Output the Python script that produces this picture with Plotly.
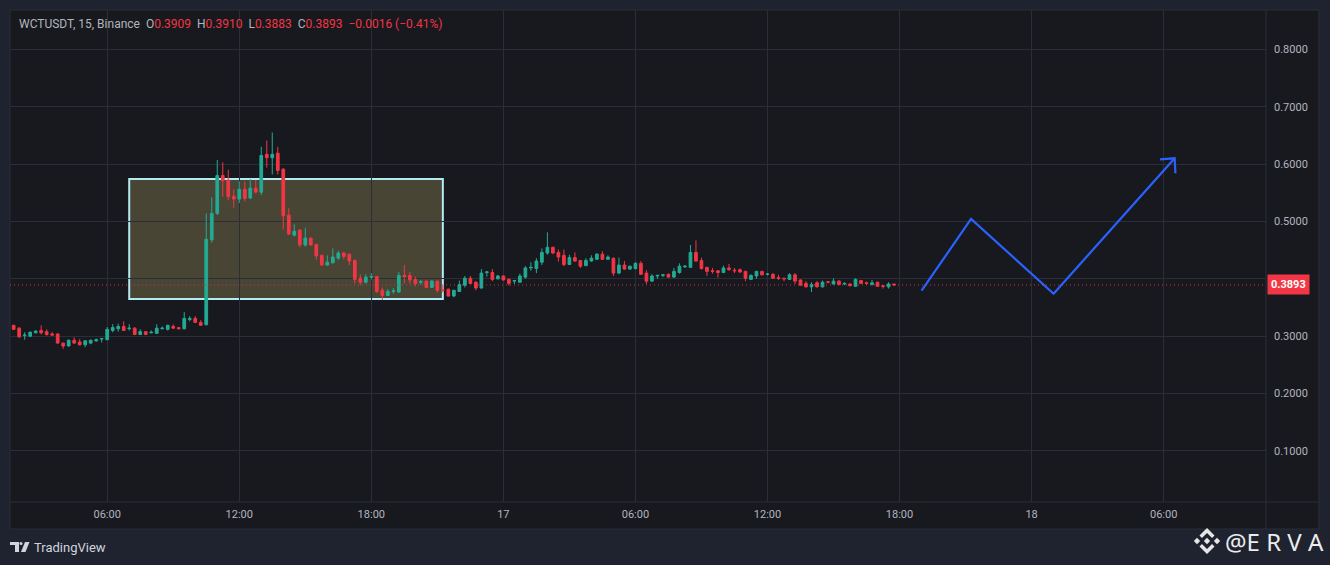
import pandas as pd
import plotly.graph_objects as go

# WCTUSDT 15m candles (Apr 16 01:45 -> Apr 17 17:45)
start = "2025-04-16 01:45"
opens = [0.319, 0.314, 0.301, 0.300, 0.306, 0.310, 0.308, 0.304, 0.304, 0.288,
         0.283, 0.293, 0.290, 0.285, 0.288, 0.292, 0.295, 0.294, 0.310, 0.313,
         0.317, 0.313, 0.314, 0.303, 0.308, 0.306, 0.305, 0.313, 0.312, 0.317,
         0.315, 0.313, 0.329, 0.331, 0.324, 0.320, 0.468, 0.514, 0.580, 0.572,
         0.544, 0.539, 0.556, 0.541, 0.558, 0.551, 0.617, 0.611, 0.619, 0.591,
         0.511, 0.476, 0.485, 0.459, 0.471, 0.460, 0.441, 0.424, 0.428, 0.436,
         0.445, 0.443, 0.432, 0.401, 0.394, 0.403, 0.404, 0.380, 0.371, 0.378,
         0.377, 0.406, 0.406, 0.399, 0.394, 0.396, 0.385, 0.396, 0.381, 0.382,
         0.370, 0.378, 0.389, 0.401, 0.394, 0.384, 0.411, 0.411, 0.400, 0.405,
         0.399, 0.396, 0.394, 0.403, 0.419, 0.418, 0.429, 0.445, 0.455, 0.446,
         0.441, 0.425, 0.437, 0.432, 0.423, 0.431, 0.434, 0.443, 0.434, 0.436,
         0.410, 0.424, 0.417, 0.418, 0.427, 0.410, 0.396, 0.405, 0.406, 0.408,
         0.403, 0.411, 0.421, 0.420, 0.446, 0.432, 0.420, 0.414, 0.414, 0.411,
         0.419, 0.415, 0.416, 0.413, 0.399, 0.405, 0.413, 0.408, 0.408, 0.402,
         0.401, 0.399, 0.407, 0.398, 0.392, 0.386, 0.393, 0.386, 0.395, 0.391,
         0.396, 0.391, 0.391, 0.387, 0.397, 0.393, 0.390, 0.394, 0.388, 0.386,
         0.3909]
highs = [0.320, 0.316, 0.307, 0.308, 0.310, 0.319, 0.312, 0.307, 0.305, 0.289,
         0.294, 0.298, 0.295, 0.293, 0.294, 0.296, 0.297, 0.316, 0.321, 0.322,
         0.326, 0.321, 0.316, 0.312, 0.309, 0.310, 0.321, 0.317, 0.320, 0.321,
         0.316, 0.342, 0.335, 0.335, 0.328, 0.514, 0.542, 0.607, 0.603, 0.590,
         0.556, 0.570, 0.570, 0.574, 0.572, 0.630, 0.641, 0.655, 0.630, 0.593,
         0.523, 0.495, 0.486, 0.489, 0.472, 0.461, 0.442, 0.441, 0.453, 0.449,
         0.447, 0.444, 0.434, 0.408, 0.408, 0.410, 0.405, 0.385, 0.382, 0.384,
         0.412, 0.424, 0.412, 0.404, 0.398, 0.397, 0.398, 0.397, 0.389, 0.383,
         0.381, 0.397, 0.405, 0.405, 0.396, 0.417, 0.413, 0.417, 0.407, 0.406,
         0.401, 0.398, 0.409, 0.422, 0.429, 0.436, 0.453, 0.481, 0.456, 0.451,
         0.451, 0.442, 0.446, 0.433, 0.436, 0.441, 0.445, 0.448, 0.441, 0.437,
         0.437, 0.431, 0.423, 0.429, 0.431, 0.415, 0.408, 0.407, 0.408, 0.409,
         0.419, 0.427, 0.424, 0.459, 0.467, 0.437, 0.421, 0.419, 0.415, 0.423,
         0.426, 0.419, 0.418, 0.414, 0.408, 0.414, 0.414, 0.410, 0.410, 0.407,
         0.402, 0.410, 0.410, 0.399, 0.396, 0.394, 0.396, 0.397, 0.396, 0.401,
         0.398, 0.394, 0.392, 0.401, 0.398, 0.395, 0.398, 0.395, 0.389, 0.394,
         0.3910]
lows = [0.311, 0.297, 0.294, 0.299, 0.305, 0.303, 0.301, 0.301, 0.287, 0.278,
        0.282, 0.287, 0.284, 0.281, 0.286, 0.290, 0.289, 0.293, 0.307, 0.308,
        0.309, 0.310, 0.302, 0.302, 0.302, 0.305, 0.304, 0.312, 0.310, 0.313,
        0.312, 0.312, 0.326, 0.323, 0.318, 0.319, 0.463, 0.511, 0.543, 0.537,
        0.524, 0.532, 0.535, 0.539, 0.549, 0.546, 0.594, 0.582, 0.582, 0.486,
        0.476, 0.474, 0.455, 0.456, 0.458, 0.433, 0.423, 0.423, 0.427, 0.433,
        0.434, 0.424, 0.392, 0.389, 0.392, 0.399, 0.375, 0.363, 0.370, 0.374,
        0.376, 0.392, 0.392, 0.387, 0.390, 0.384, 0.384, 0.376, 0.376, 0.369,
        0.368, 0.377, 0.385, 0.391, 0.380, 0.383, 0.404, 0.396, 0.399, 0.397,
        0.388, 0.391, 0.393, 0.400, 0.414, 0.410, 0.424, 0.442, 0.443, 0.430,
        0.422, 0.424, 0.430, 0.419, 0.422, 0.430, 0.433, 0.433, 0.433, 0.405,
        0.408, 0.416, 0.416, 0.416, 0.407, 0.391, 0.395, 0.400, 0.403, 0.402,
        0.402, 0.409, 0.419, 0.419, 0.430, 0.416, 0.405, 0.409, 0.402, 0.410,
        0.414, 0.410, 0.410, 0.396, 0.398, 0.400, 0.406, 0.406, 0.400, 0.398,
        0.396, 0.398, 0.391, 0.388, 0.385, 0.377, 0.385, 0.385, 0.392, 0.390,
        0.389, 0.389, 0.387, 0.386, 0.391, 0.390, 0.389, 0.386, 0.383, 0.383,
        0.3883]
closes = [0.312, 0.299, 0.302, 0.307, 0.309, 0.306, 0.303, 0.302, 0.288, 0.283,
          0.293, 0.288, 0.285, 0.292, 0.293, 0.294, 0.296, 0.312, 0.315, 0.317,
          0.310, 0.314, 0.303, 0.308, 0.303, 0.307, 0.314, 0.314, 0.319, 0.314,
          0.313, 0.331, 0.331, 0.324, 0.319, 0.469, 0.514, 0.580, 0.571, 0.543,
          0.539, 0.556, 0.540, 0.558, 0.551, 0.615, 0.611, 0.617, 0.589, 0.510,
          0.478, 0.483, 0.459, 0.471, 0.459, 0.440, 0.424, 0.429, 0.438, 0.445,
          0.439, 0.431, 0.399, 0.394, 0.403, 0.404, 0.378, 0.371, 0.378, 0.379,
          0.406, 0.404, 0.398, 0.392, 0.395, 0.385, 0.396, 0.380, 0.380, 0.370,
          0.380, 0.390, 0.401, 0.392, 0.384, 0.410, 0.412, 0.399, 0.405, 0.398,
          0.392, 0.397, 0.405, 0.419, 0.420, 0.431, 0.446, 0.455, 0.445, 0.438,
          0.425, 0.437, 0.431, 0.422, 0.432, 0.436, 0.443, 0.434, 0.438, 0.410,
          0.424, 0.417, 0.422, 0.427, 0.408, 0.396, 0.405, 0.406, 0.407, 0.403,
          0.413, 0.422, 0.422, 0.446, 0.431, 0.418, 0.413, 0.413, 0.411, 0.419,
          0.416, 0.414, 0.412, 0.401, 0.406, 0.413, 0.407, 0.4082, 0.401, 0.401,
          0.400, 0.407, 0.396, 0.389, 0.386, 0.390, 0.386, 0.394, 0.394, 0.396,
          0.390, 0.392, 0.388, 0.399, 0.392, 0.392, 0.393, 0.387, 0.387, 0.391,
          0.3893]
times = pd.date_range(start, periods=len(opens), freq="15min")

# drawings
box_times = ["2025-04-16 07:00", "2025-04-16 21:15"]
box_prices = [0.365, 0.574]
path_times = ["2025-04-17 19:00", "2025-04-17 21:15", "2025-04-18 01:00", "2025-04-18 06:30"]
path_prices = [0.3794, 0.5043, 0.3741, 0.6101]
head_times = ["2025-04-18 05:50", "2025-04-18 06:30", "2025-04-18 06:32"]
head_prices = [0.6083, 0.6101, 0.5839]

tick_vals = ["2025-04-16 06:00", "2025-04-16 12:00", "2025-04-16 18:00", "2025-04-17 00:00",
             "2025-04-17 06:00", "2025-04-17 12:00", "2025-04-17 18:00", "2025-04-18 00:00",
             "2025-04-18 06:00"]
tick_text = ["06:00", "12:00", "18:00", "17", "06:00", "12:00", "18:00", "18", "06:00"]
price_ticks = [0.1, 0.2, 0.3, 0.4, 0.5, 0.6, 0.7, 0.8]
last_price = closes[-1]

UP = "#22ab94"
DOWN = "#f23645"
GRID = "#2a2e39"
TXT = "#b2b5be"
PANEL = "#18191e"
OUTER = "#1f2330"
FONT = "Roboto"


def px(x, y):
    # screen pixel -> paper coords (plot area is x 10..1266, y 10..502)
    return (x - 10) / 1256, (502 - y) / 492


def poly(points):
    d = ""
    for k, (x, y) in enumerate(points):
        u, v = px(x, y)
        d += ("M" if k == 0 else "L") + f"{u:.5f},{v:.5f} "
    return d + "Z"


fig = go.Figure()
fig.add_trace(go.Candlestick(
    x=times, open=opens, high=highs, low=lows, close=closes,
    increasing=dict(line=dict(color=UP, width=1), fillcolor=UP),
    decreasing=dict(line=dict(color=DOWN, width=1), fillcolor=DOWN),
    whiskerwidth=0, hoverinfo="skip",
))
fig.add_trace(go.Scatter(
    x=path_times, y=path_prices, mode="lines",
    line=dict(color="#2962ff", width=2.2), hoverinfo="skip",
))
fig.add_trace(go.Scatter(
    x=head_times, y=head_prices, mode="lines",
    line=dict(color="#2962ff", width=2.2), hoverinfo="skip",
))

shapes = []
# dark panel incl. axis areas
x0, y0 = px(10, 10)
x1, y1 = px(1319, 529)
shapes.append(dict(type="rect", xref="paper", yref="paper", x0=x0, y0=y0, x1=x1, y1=y1,
                   fillcolor=PANEL, line=dict(color=GRID, width=1), layer="below"))
# axis separators
a, b = px(10, 502)
c, _ = px(1319, 502)
shapes.append(dict(type="line", xref="paper", yref="paper", x0=a, y0=b, x1=c, y1=b,
                   line=dict(color=GRID, width=1)))
a, b = px(1266, 10)
_, d = px(1266, 529)
shapes.append(dict(type="line", xref="paper", yref="paper", x0=a, y0=b, x1=a, y1=d,
                   line=dict(color=GRID, width=1)))
# rectangle drawing
shapes.append(dict(type="rect", x0=box_times[0], x1=box_times[1], y0=box_prices[0], y1=box_prices[1],
                   fillcolor="rgba(130,125,80,0.45)", line=dict(color="#b2ebf2", width=2), layer="below"))
# last price dotted line
shapes.append(dict(type="line", xref="paper", x0=0, x1=1, y0=last_price, y1=last_price,
                   line=dict(color="rgba(242,54,69,0.85)", width=1, dash="1px,3px")))
# TradingView logo
LOGO = "#d1d4dc"
shapes.append(dict(type="path", path=poly([(10, 542), (19, 542), (19, 552), (15, 552), (15, 545), (10, 545)]),
                   xref="paper", yref="paper", fillcolor=LOGO, line=dict(width=0)))
u0, v0 = px(19.5, 542)
u1, v1 = px(22.5, 545)
shapes.append(dict(type="circle", xref="paper", yref="paper", x0=u0, y0=v0, x1=u1, y1=v1,
                   fillcolor=LOGO, line=dict(width=0)))
shapes.append(dict(type="path", path=poly([(25, 542), (29.5, 542), (25.5, 552), (21, 552)]),
                   xref="paper", yref="paper", fillcolor=LOGO, line=dict(width=0)))
# binance-like diamond icon
ICON = "#e6e6e6"
cx, cy = 1207, 541
for dx in (-10, 0, 10):
    shapes.append(dict(type="path", path=poly([(cx + dx, cy - 3.2), (cx + dx + 3.2, cy), (cx + dx, cy + 3.2), (cx + dx - 3.2, cy)]),
                       xref="paper", yref="paper", fillcolor=ICON, line=dict(width=0)))
shapes.append(dict(type="path", path=poly([(cx - 7.5, cy - 5.5), (cx, cy - 13), (cx + 7.5, cy - 5.5), (cx + 5, cy - 3), (cx, cy - 8), (cx - 5, cy - 3)]),
                   xref="paper", yref="paper", fillcolor=ICON, line=dict(width=0)))
shapes.append(dict(type="path", path=poly([(cx - 7.5, cy + 5.5), (cx, cy + 13), (cx + 7.5, cy + 5.5), (cx + 5, cy + 3), (cx, cy + 8), (cx - 5, cy + 3)]),
                   xref="paper", yref="paper", fillcolor=ICON, line=dict(width=0)))

annotations = []
g = f"<span style='color:{TXT}'>"
r = f"<span style='color:{DOWN}'>"
header = (g + "WCTUSDT, 15, Binance&nbsp;&nbsp;O</span>" + r + f"{opens[-1]:.4f}</span>"
          + g + "&nbsp;&nbsp;H</span>" + r + f"{highs[-1]:.4f}</span>"
          + g + "&nbsp;&nbsp;L</span>" + r + f"{lows[-1]:.4f}</span>"
          + g + "&nbsp;&nbsp;C</span>" + r + f"{closes[-1]:.4f}</span>"
          + r + f"&nbsp;&nbsp;\u22120.0016 (\u22120.41%)</span>")
hx, hy = px(17, 24)
annotations.append(dict(xref="paper", yref="paper", x=hx, y=hy, xanchor="left", yanchor="middle",
                        text=header, showarrow=False, font=dict(family=FONT, size=12, color=TXT)))
annotations.append(dict(xref="paper", x=1 + 1 / 1256, y=last_price, xanchor="left", yanchor="middle",
                        text=f"<b>{last_price:.4f}</b>", showarrow=False, bgcolor=DOWN, borderpad=3,
                        font=dict(family=FONT, size=11, color="white")))
tx, ty = px(32, 547)
annotations.append(dict(xref="paper", yref="paper", x=tx, y=ty, xanchor="left", yanchor="middle",
                        text="TradingView", showarrow=False, font=dict(family=FONT, size=13, color=LOGO)))
ex, ey = px(1223, 541)
annotations.append(dict(xref="paper", yref="paper", x=ex, y=ey, xanchor="left", yanchor="middle",
                        text="@E R V A", showarrow=False, font=dict(family="Noto Sans", size=24, color="#ececec")))

fig.update_layout(
    width=1330, height=565, autosize=False,
    margin=dict(l=10, r=64, t=10, b=63),
    paper_bgcolor=OUTER, plot_bgcolor=PANEL,
    showlegend=False, hovermode=False,
    font=dict(family=FONT, size=11, color=TXT),
    shapes=shapes, annotations=annotations,
    xaxis=dict(type="date", range=["2025-04-16 01:35", "2025-04-18 10:39"],
               tickvals=tick_vals, ticktext=tick_text, showgrid=True, gridcolor=GRID,
               zeroline=False, showline=False, ticks="", rangeslider=dict(visible=False),
               tickfont=dict(size=11, color=TXT), ticklabelstandoff=4),
    yaxis=dict(side="right", range=[0.0111, 0.8685], tickvals=price_ticks, tickformat=".4f",
               showgrid=True, gridcolor=GRID, zeroline=False, showline=False, ticks="",
               tickfont=dict(size=11, color=TXT), ticklabelstandoff=7),
)

fig.write_html("out.html", config={"displayModeBar": False},
               post_script="document.body.style.margin='0';document.body.style.overflow='hidden';")
